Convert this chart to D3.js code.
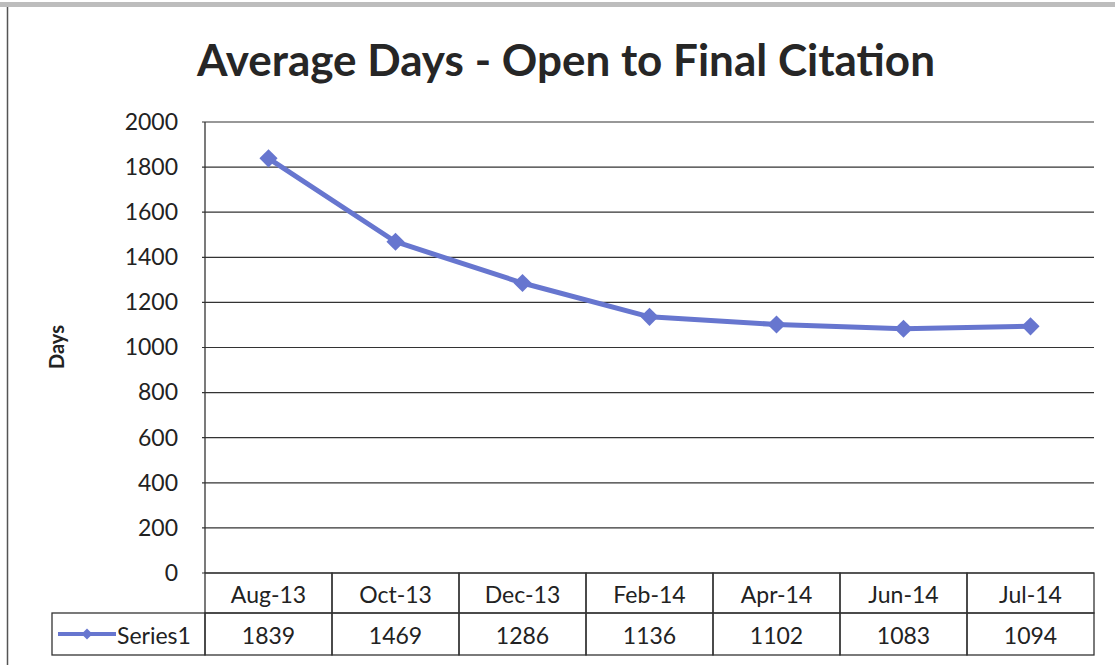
<!DOCTYPE html>
<html lang="en">
<head>
<meta charset="utf-8">
<script src="https://d3js.org/d3.v7.min.js"></script>
<style>
body { margin: 0; background: #fff; }
svg { display: block; font-family: Lato, "Open Sans", sans-serif; }
.grid line { stroke: #333; stroke-width: 1.2; }
.axis path { display: none; }
.axis line { stroke: #333; }
.axis text { font-family: Lato, "Open Sans", sans-serif; font-size: 23px; fill: #222; }
.cell { fill: none; stroke: #333; stroke-width: 1.3; }
.tbl text { font-size: 23px; fill: #222; text-anchor: middle; }
</style>
</head>
<body>
<div id="chart"></div>
<script>
var width = 1115, height = 665;

var categories = ["Aug-13", "Oct-13", "Dec-13", "Feb-14", "Apr-14", "Jun-14", "Jul-14"];
var values = [1839, 1469, 1286, 1136, 1102, 1083, 1094];
var yTicks = [0, 200, 400, 600, 800, 1000, 1200, 1400, 1600, 1800, 2000];
var seriesName = "Series1";

var plot = {left: 205, right: 1094, top: 122, bottom: 573};
var rowH = [40, 42],   // header row, values row
    lineColor = "#6776cf";

var svg = d3.select("#chart").append("svg")
    .attr("width", width)
    .attr("height", height);

// outer frame of the pasted chart
svg.append("rect").attr("x", 0).attr("y", 2).attr("width", width).attr("height", 5).attr("fill", "#bdbdbd");
svg.append("line").attr("x1", 7.5).attr("x2", 7.5).attr("y1", 7).attr("y2", height)
    .attr("stroke", "#555").attr("stroke-width", 1.5);

var x = d3.scaleBand()
    .domain(categories)
    .range([plot.left, plot.right])
    .padding(0);

var y = d3.scaleLinear()
    .domain([0, 2000])
    .range([plot.bottom, plot.top]);

// gridlines
svg.append("g").attr("class", "grid")
    .selectAll("line")
    .data(yTicks)
    .enter().append("line")
    .attr("x1", plot.left - 3)
    .attr("x2", plot.right)
    .attr("y1", function(d) { return y(d); })
    .attr("y2", function(d) { return y(d); });

svg.append("line")
    .attr("x1", plot.left).attr("x2", plot.left)
    .attr("y1", plot.top).attr("y2", plot.bottom)
    .attr("stroke", "#333").attr("stroke-width", 1.3);

svg.append("g").attr("class", "axis")
    .attr("transform", "translate(" + (plot.left - 27) + ",0)")
    .call(d3.axisLeft(y).tickValues(yTicks).tickFormat(d3.format("d")).tickSize(0).tickPadding(0));

svg.append("text")
    .attr("transform", "translate(64,347) rotate(-90)")
    .attr("text-anchor", "middle")
    .attr("font-size", 20)
    .attr("font-weight", "bold")
    .attr("fill", "#222")
    .text("Days");

svg.append("text")
    .attr("x", 566)
    .attr("y", 76)
    .attr("text-anchor", "middle")
    .attr("font-size", 44)
    .attr("font-weight", "bold")
    .attr("fill", "#262626")
    .text("Average Days - Open to Final Citation");

// data table under the axis
var tbl = svg.append("g").attr("class", "tbl");
var r1 = plot.bottom, r2 = plot.bottom + rowH[0];

tbl.selectAll("rect.head")
    .data(categories)
    .enter().append("rect")
    .attr("class", "cell head")
    .attr("x", function(d) { return x(d); })
    .attr("y", r1)
    .attr("width", x.bandwidth())
    .attr("height", rowH[0]);

tbl.selectAll("rect.val")
    .data(categories)
    .enter().append("rect")
    .attr("class", "cell val")
    .attr("x", function(d) { return x(d); })
    .attr("y", r2)
    .attr("width", x.bandwidth())
    .attr("height", rowH[1]);

tbl.append("rect").attr("class", "cell")
    .attr("x", 52).attr("y", r2)
    .attr("width", plot.left - 52).attr("height", rowH[1]);

tbl.selectAll("text.head")
    .data(categories)
    .enter().append("text")
    .attr("class", "head")
    .attr("x", function(d) { return x(d) + x.bandwidth() / 2; })
    .attr("y", r1 + 30)
    .text(function(d) { return d; });

tbl.selectAll("text.val")
    .data(values)
    .enter().append("text")
    .attr("class", "val")
    .attr("x", function(d, i) { return x(categories[i]) + x.bandwidth() / 2; })
    .attr("y", r2 + 31)
    .text(function(d) { return d; });

// legend key in the table
var ly = r2 + rowH[1] / 2;
tbl.append("line")
    .attr("x1", 58).attr("x2", 116).attr("y1", ly).attr("y2", ly)
    .attr("stroke", lineColor).attr("stroke-width", 4);
tbl.append("path")
    .attr("d", d3.symbol(d3.symbolSquare, 60)())
    .attr("transform", "translate(87," + ly + ") rotate(45)")
    .attr("fill", lineColor);
tbl.append("text")
    .attr("x", 117).attr("y", r2 + 31)
    .style("text-anchor", "start")
    .text(seriesName);

// series line
var line = d3.line()
    .x(function(d, i) { return x(categories[i]) + x.bandwidth() / 2; })
    .y(function(d) { return y(d); });

svg.append("path")
    .datum(values)
    .attr("d", line)
    .attr("fill", "none")
    .attr("stroke", lineColor)
    .attr("stroke-width", 5)
    .attr("stroke-linejoin", "round");

svg.selectAll(".marker")
    .data(values)
    .enter().append("path")
    .attr("class", "marker")
    .attr("d", d3.symbol(d3.symbolSquare, 165)())
    .attr("transform", function(d, i) {
        return "translate(" + (x(categories[i]) + x.bandwidth() / 2) + "," + y(d) + ") rotate(45)";
    })
    .attr("fill", lineColor);
</script>
</body>
</html>
